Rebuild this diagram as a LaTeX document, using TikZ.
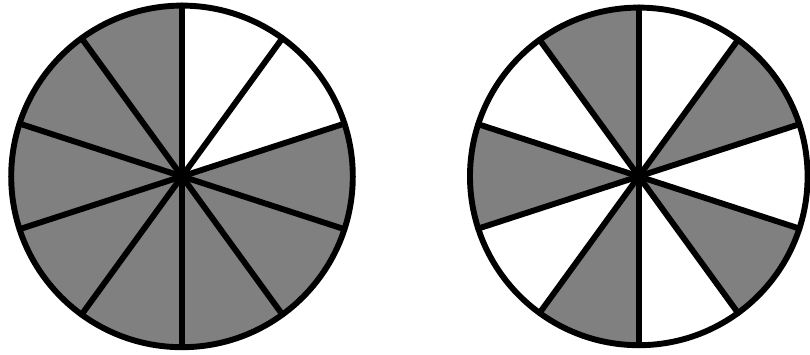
\documentclass[tikz,border=0pt]{standalone}
\usepackage{tikz}
\usetikzlibrary{positioning}
\usepackage{xcolor}
\definecolor{sectorgray}{RGB}{128,128,128}
\definecolor{rimblack}{RGB}{0,0,0}
\tikzset{wheelline/.style={draw=rimblack,line width=4.2pt,line cap=round,line join=round}}

\begin{document}
\begin{tikzpicture}
        \useasboundingbox (0,0) rectangle (20.25,8.85);
        \coordinate (leftc) at (4.55,4.44);
        \coordinate (rightc) at (15.97,4.44);
        % left wheel: two white, eight gray
        \foreach \k/\col in {0/white,1/white,2/sectorgray,3/sectorgray,4/sectorgray,
                             5/sectorgray,6/sectorgray,7/sectorgray,8/sectorgray,9/sectorgray}
          \fill[\col] (leftc) -- ++(90-36*\k:4.27)
            arc[start angle=90-36*\k,end angle=54-36*\k,radius=4.27] -- cycle;
        % right wheel: alternating
        \foreach \k/\col in {0/white,1/sectorgray,2/white,3/sectorgray,4/white,
                             5/sectorgray,6/white,7/sectorgray,8/white,9/sectorgray}
          \fill[\col] (rightc) -- ++(90-36*\k:4.22)
            arc[start angle=90-36*\k,end angle=54-36*\k,radius=4.22] -- cycle;
        \foreach \c/\r in {leftc/4.27,rightc/4.22}{
          \foreach \k in {0,...,9}
            \draw[wheelline] (\c) -- ++(90-36*\k:\r);
          \draw[wheelline] (\c) circle[radius=\r];
        }
      \end{tikzpicture}
\end{document}
